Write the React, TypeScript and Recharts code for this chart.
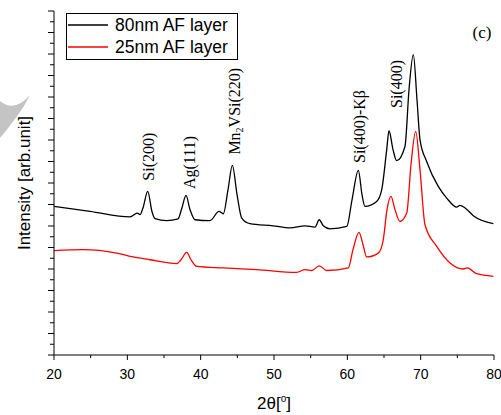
import React from 'react';
import { LineChart, Line, XAxis, YAxis, ReferenceDot } from 'recharts';

// 2θ (degrees) and intensity (arb. units) for the 80 nm AF layer
const theta80 = [20.0, 24.91, 30.36, 31.36, 31.73, 32.14, 32.78, 33.36, 33.77, 35.37, 36.91, 37.45, 38.0, 38.55, 39.23, 41.27, 42.5, 43.09, 43.73, 44.32, 44.96, 45.6, 46.73, 49.86, 52.18, 54.23, 55.59, 56.17, 56.72, 57.64, 59.92, 60.64, 61.5, 62.0, 62.41, 64.0, 64.69, 65.37, 65.68, 66.23, 66.73, 67.86, 68.41, 69.0, 69.5, 69.91, 70.82, 72.4, 73.55, 74.91, 75.36, 76.05, 77.18, 79.91];
const intensity80 = [6.91, 6.68, 6.42, 6.6, 6.53, 6.85, 7.61, 6.67, 6.34, 6.25, 6.33, 6.85, 7.42, 6.76, 6.29, 6.25, 6.68, 6.57, 7.69, 8.82, 7.46, 6.37, 6.11, 6.01, 5.91, 6.01, 5.95, 6.29, 6.01, 5.87, 5.98, 7.22, 8.59, 7.46, 6.91, 7.14, 7.69, 9.55, 10.43, 9.55, 9.04, 9.7, 12.34, 13.97, 11.87, 10.01, 9.0, 7.84, 7.3, 6.88, 6.96, 6.84, 6.48, 6.11];

// 2θ (degrees) and intensity (arb. units) for the 25 nm AF layer
const theta25 = [20.0, 24.0, 28.55, 30.81, 33.09, 36.73, 37.32, 38.1, 38.68, 39.46, 43.09, 47.64, 53.09, 54.23, 55.14, 56.17, 57.19, 60.13, 60.77, 61.59, 62.14, 62.64, 64.22, 64.9, 65.41, 65.95, 66.5, 67.18, 68.1, 68.68, 69.32, 69.91, 70.59, 72.19, 74.0, 75.82, 76.36, 77.64, 79.91];
const intensity25 = [4.85, 4.9, 4.74, 4.56, 4.43, 4.25, 4.43, 4.77, 4.43, 4.12, 4.05, 3.97, 3.84, 3.97, 3.93, 4.15, 3.93, 4.05, 4.9, 5.7, 5.13, 4.56, 4.74, 5.36, 6.76, 7.38, 6.76, 6.21, 6.6, 8.85, 10.4, 8.62, 6.06, 5.05, 4.28, 4.0, 4.05, 3.78, 3.66];

const xTicks = [20, 25, 30, 35, 40, 45, 50, 55, 60, 65, 70, 75, 80];
const yTicks = [0, 0.5, 1, 1.5, 2, 2.5, 3, 3.5, 4, 4.5, 5, 5.5, 6, 6.5, 7, 7.5, 8, 8.5, 9, 9.5, 10, 10.5, 11, 11.5, 12, 12.5, 13, 13.5, 14, 14.5, 15, 15.5, 16];

// Peak annotation labels: position (2θ) and the intensity where the label starts
const peakNames = ['Si(200)', 'Ag(111)', 'Mn2VSi(220)', 'Si(400)-Kβ', 'Si(400)'];
const peakTheta = [32.82, 38.48, 44.55, 61.66, 66.64];
const peakLabelBase = [8.11, 7.72, 9.32, 8.93, 11.49];

const seriesNames = ['80nm AF layer', '25nm AF layer'];
const seriesColors = ['#000000', '#ff0000'];

const data80 = theta80.map((t, i) => ({ t, v: intensity80[i] }));
const data25 = theta25.map((t, i) => ({ t, v: intensity25[i] }));

const SANS = "'Liberation Sans', Arial, sans-serif";
const SERIF = "'Liberation Serif', 'Times New Roman', serif";

const XTick = (props: any) => {
  const { x, y, payload } = props;
  const major = payload.value % 10 === 0;
  return (
    <g>
      <line x1={x} x2={x} y1={y} y2={y + (major ? 5 : 3)} stroke="#000" strokeWidth={1} />
      {major && (
        <text x={x} y={y + 24} textAnchor="middle" fontFamily={SANS} fontSize={14} fill="#000">
          {payload.value}
        </text>
      )}
    </g>
  );
};

const YTick = (props: any) => {
  const { x, y, payload } = props;
  const major = Number.isInteger(payload.value);
  return <line x1={x - (major ? 6 : 4)} x2={x} y1={y} y2={y} stroke="#000" strokeWidth={1} />;
};

const XTitle = (props: any) => {
  const vb = props.viewBox || {};
  const cx = vb.x + vb.width / 2;
  return (
    <text x={cx} y={vb.y + 54} textAnchor="middle" fontFamily={SANS} fontSize={17} fill="#000">
      2θ[<tspan fontSize={10} dy={-7}>o</tspan><tspan dy={7}>]</tspan>
    </text>
  );
};

const PeakLabel = (name: string) => (props: any) => {
  const vb = props.viewBox || {};
  const cx = vb.x + (vb.width || 0) / 2;
  const cy = vb.y + (vb.height || 0) / 2;
  if (name === 'Mn2VSi(220)') {
    return (
      <text x={cx} y={cy} transform={`rotate(-90 ${cx} ${cy})`} fontFamily={SERIF} fontSize={16} dominantBaseline="central" fill="#000">
        Mn<tspan fontSize={10} dy={5}>2</tspan><tspan dy={-5}>VSi(220)</tspan>
      </text>
    );
  }
  return (
    <text x={cx} y={cy} transform={`rotate(-90 ${cx} ${cy})`} fontFamily={SERIF} fontSize={16} dominantBaseline="central" fill="#000">
      {name}
    </text>
  );
};

const CornerLabel = (props: any) => {
  const vb = props.viewBox || {};
  const cx = vb.x + (vb.width || 0) / 2;
  const cy = vb.y + (vb.height || 0) / 2;
  return (
    <text x={cx} y={cy} textAnchor="middle" dominantBaseline="central" fontFamily={SERIF} fontSize={17} fill="#000">
      (c)
    </text>
  );
};

const LegendBox = () => (
  <svg width={172} height={47} style={{ display: 'block' }}>
    <rect x={0.5} y={0.5} width={171} height={46} fill="#fff" stroke="#000" strokeWidth={1} />
    {seriesNames.map((n, i) => (
      <g key={n}>
        <line x1={2} x2={42} y1={12 + i * 22} y2={12 + i * 22} stroke={seriesColors[i]} strokeWidth={1.3} />
        <text x={49} y={12 + i * 22} dominantBaseline="central" fontFamily={SANS} fontSize={17.5} fill="#000">
          {n}
        </text>
      </g>
    ))}
  </svg>
);

export default function App() {
  return (
    <div style={{ position: 'absolute', left: 0, top: 0, width: 501, height: 415, background: '#fff' }}>
      <svg width={501} height={415} style={{ position: 'absolute', left: 0, top: 0 }}>
        <path d="M0,101 Q14,113 30,95 L24,106 Q12,124 0,138 Z" fill="#c4c4c4" />
      </svg>
      <div style={{ position: 'absolute', left: 0, top: 0 }}>
        <LineChart width={501} height={415} margin={{ top: 11, right: 7, left: 0, bottom: 0 }}>
          <XAxis
            type="number"
            dataKey="t"
            domain={[20, 80]}
            ticks={xTicks}
            interval={0}
            allowDataOverflow
            height={60}
            tickLine={false}
            tickSize={0}
            tickMargin={0}
            tick={<XTick />}
            axisLine={{ stroke: '#000', strokeWidth: 1 }}
            label={<XTitle />}
          />
          <YAxis
            type="number"
            domain={[0, 16]}
            ticks={yTicks}
            interval={0}
            allowDataOverflow
            width={54}
            tickLine={false}
            tickSize={0}
            tickMargin={0}
            tick={<YTick />}
            axisLine={{ stroke: '#000', strokeWidth: 1 }}
            label={{
              value: 'Intensity [arb.unit]',
              angle: -90,
              position: 'insideLeft',
              offset: 24,
              style: { textAnchor: 'middle', fontFamily: SANS, fontSize: 17, fill: '#000' },
            }}
          />
          <Line data={data80} dataKey="v" name={seriesNames[0]} type="monotone" stroke={seriesColors[0]} strokeWidth={1.3} dot={false} isAnimationActive={false} />
          <Line data={data25} dataKey="v" name={seriesNames[1]} type="monotone" stroke={seriesColors[1]} strokeWidth={1.3} dot={false} isAnimationActive={false} />
          {peakNames.map((n, i) => (
            <ReferenceDot key={n} x={peakTheta[i]} y={peakLabelBase[i]} r={0} fill="none" stroke="none" ifOverflow="visible" label={PeakLabel(n)} />
          ))}
          <ReferenceDot x={78.37} y={14.99} r={0} fill="none" stroke="none" ifOverflow="visible" label={CornerLabel} />
        </LineChart>
      </div>
      <div style={{ position: 'absolute', left: 66, top: 13 }}>
        <LegendBox />
      </div>
    </div>
  );
}
